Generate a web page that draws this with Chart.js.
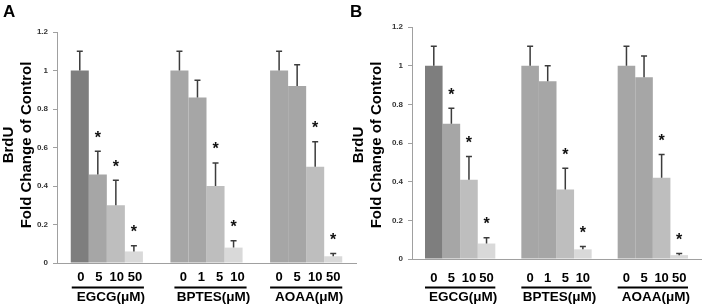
<!DOCTYPE html>
<html>
<head>
<meta charset="utf-8">
<script src="https://cdn.jsdelivr.net/npm/chart.js@4.4.1/dist/chart.umd.min.js"></script>
<style>
  html, body { margin: 0; padding: 0; background: #fff; }
  body { width: 702px; height: 305px; position: relative; overflow: hidden; }
  canvas { position: absolute; top: 0; }
  #chartA { left: 0; }
  #chartB { left: 345px; }
</style>
</head>
<body>
<canvas id="chartA" width="360" height="305"></canvas>
<canvas id="chartB" width="357" height="305"></canvas>
<script>
const groups = ["EGCG(μM)", "BPTES(μM)", "AOAA(μM)"];
const doses = [["0", "5", "10", "50"], ["0", "1", "5", "10"], ["0", "5", "10", "50"]];

// panel A - BrdU fold change, one row per drug, one column per dose
const meanA = [[1.00, 0.46, 0.30, 0.06], [1.00, 0.86, 0.40, 0.08], [1.00, 0.92, 0.50, 0.035]];
const sdA = [[0.10, 0.12, 0.13, 0.03], [0.10, 0.09, 0.12, 0.035], [0.10, 0.11, 0.13, 0.015]];
const starA = [[0, 1, 1, 1], [0, 0, 1, 1], [0, 0, 1, 1]];

// panel B
const meanB = [[1.00, 0.70, 0.41, 0.08], [1.00, 0.92, 0.36, 0.05], [1.00, 0.94, 0.42, 0.02]];
const sdB = [[0.10, 0.08, 0.12, 0.03], [0.10, 0.08, 0.11, 0.015], [0.10, 0.11, 0.12, 0.008]];
const starB = [[0, 1, 1, 1], [0, 0, 1, 1], [0, 0, 1, 1]];

const DARK = "#7e7e7e", MID = "#a6a6a6", LIGHT = "#bebebe", PALE = "#d9d9d9";
const barColors = [[DARK, MID, LIGHT, PALE], [MID, MID, LIGHT, PALE], [MID, MID, LIGHT, PALE]];
const FONT = "'Liberation Sans', Arial, sans-serif";

const annotate = {
  id: "annotate",
  afterDatasetsDraw(chart, args, opts) {
    const ctx = chart.ctx;
    const y = chart.scales.y;
    ctx.save();
    // error bars + stars
    chart.data.datasets.forEach((ds, i) => {
      chart.getDatasetMeta(i).data.forEach((bar, g) => {
        const top = y.getPixelForValue(ds.data[g] + ds.sd[g]);
        ctx.strokeStyle = "#3c3c3c";
        ctx.lineWidth = 1.5;
        ctx.beginPath();
        ctx.moveTo(bar.x, bar.y);
        ctx.lineTo(bar.x, top);
        ctx.moveTo(bar.x - 3, top);
        ctx.lineTo(bar.x + 3, top);
        ctx.stroke();
        if (ds.star[g]) {
          ctx.fillStyle = "#111";
          ctx.font = "bold 16px " + FONT;
          ctx.textAlign = "center";
          ctx.textBaseline = "middle";
          ctx.fillText("*", bar.x, top - 13);
        }
        // dose label under the bar
        ctx.fillStyle = "#000";
        ctx.font = "bold 13px " + FONT;
        ctx.textAlign = "center";
        ctx.textBaseline = "middle";
        ctx.fillText(doses[g][i], bar.x + opts.shift[g], opts.doseY);
      });
    });
    // underline + drug name
    const first = chart.getDatasetMeta(0).data;
    const last = chart.getDatasetMeta(3).data;
    groups.forEach((name, g) => {
      const l = first[g].x - first[g].width / 2 + opts.shift[g];
      const r = last[g].x + last[g].width / 2 + opts.shift[g];
      ctx.fillStyle = "#000";
      ctx.fillRect(l, opts.lineY - 1, r - l, 2);
      ctx.font = "bold 13.5px " + FONT;
      ctx.textAlign = "center";
      ctx.textBaseline = "middle";
      ctx.fillText(name, (l + r) / 2 + 3, opts.groupY);
    });
    ctx.restore();
  },
  afterDraw(chart, args, opts) {
    const ctx = chart.ctx;
    ctx.save();
    ctx.fillStyle = "#000";
    ctx.font = "bold 17px " + FONT;
    ctx.textAlign = "left";
    ctx.textBaseline = "top";
    ctx.fillText(opts.letter, opts.letterX, 4);
    ctx.font = "bold 15px " + FONT;
    ctx.textAlign = "center";
    ctx.textBaseline = "middle";
    [["BrdU", opts.titleX - 18], ["Fold Change of Control", opts.titleX]].forEach(([t, x]) => {
      ctx.save();
      ctx.translate(x, 145);
      ctx.rotate(-Math.PI / 2);
      ctx.fillText(t, 0, 0);
      ctx.restore();
    });
    ctx.restore();
  }
};

function makeChart(id, mean, sd, star, box) {
  const datasets = [0, 1, 2, 3].map(i => ({
    data: mean.map(row => row[i]),
    sd: sd.map(row => row[i]),
    star: star.map(row => row[i]),
    backgroundColor: barColors.map(row => row[i]),
    borderWidth: 0,
    barPercentage: 1,
    categoryPercentage: box.catPct
  }));
  return new Chart(document.getElementById(id), {
    type: "bar",
    data: { labels: groups, datasets: datasets },
    plugins: [annotate],
    options: {
      responsive: false,
      animation: false,
      devicePixelRatio: 1,
      layout: { padding: { top: box.top, right: box.right, left: 0, bottom: 0 } },
      plugins: {
        legend: { display: false },
        tooltip: { enabled: false },
        annotate: box.labels
      },
      scales: {
        x: {
          ticks: { display: false },
          grid: { display: false },
          border: { color: "#a0a0a0", width: 1 },
          afterFit: s => { s.height = box.xh; }
        },
        y: {
          min: 0,
          max: 1.2,
          ticks: {
            stepSize: 0.2,
            padding: 5,
            color: "#333",
            font: { family: FONT, size: 8, weight: "bold" },
            callback: v => String(Math.round(v * 10) / 10)
          },
          grid: { drawOnChartArea: false, drawTicks: true, tickLength: 4, color: "#a0a0a0" },
          border: { color: "#a0a0a0", width: 1 },
          afterFit: s => { s.width = box.yw; }
        }
      }
    }
  });
}

makeChart("chartA", meanA, sdA, starA, {
  catPct: 0.724, top: 32, right: 4, xh: 42, yw: 57,
  labels: { shift: [1, 4, 0], doseY: 277, lineY: 287.5, groupY: 297.5, letter: "A", letterX: 3, titleX: 27 }
});
makeChart("chartB", meanB, sdB, starB, {
  catPct: 0.73, top: 27, right: 1, xh: 46, yw: 67,
  labels: { shift: [0, 0, 0], doseY: 278, lineY: 287.5, groupY: 297.5, letter: "B", letterX: 5, titleX: 32 }
});
</script>
</body>
</html>
